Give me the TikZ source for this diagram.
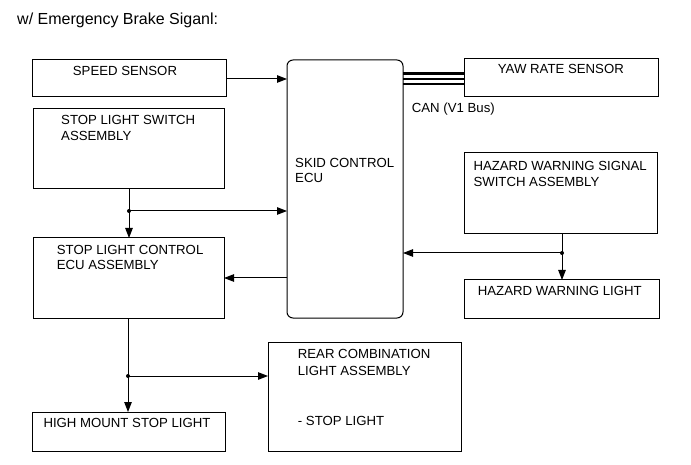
\documentclass[tikz,border=0pt]{standalone}
\usepackage{fontspec}
\setmainfont{Liberation Sans}
\usetikzlibrary{arrows.meta}
\begin{document}
\begin{tikzpicture}[x=1pt,y=-1pt,
  box/.style={draw=black, line width=1pt, anchor=north west, inner sep=0pt, outer sep=0pt},
  lbl/.style={anchor=base west, inner sep=0pt, font=\fontsize{13.2}{15.7}\selectfont},
  conn/.style={line width=1pt, -{Triangle[length=10pt,width=7.5pt]}},
  dot/.style={circle, fill=black, inner sep=0pt, minimum size=4pt}]
\useasboundingbox (0,0) rectangle (691,465);

% title
\node[lbl, font=\fontsize{16}{18}\selectfont] (title) at (17,25) {w/ Emergency Brake Siganl:};

% boxes
\node[box, minimum width=194pt, minimum height=37pt] (speed) at (32,60) {};
\node[box, minimum width=116pt, minimum height=258pt, rounded corners=6pt] (ecu) at (287,60) {};
\node[box, minimum width=194pt, minimum height=38pt] (yaw) at (464,59) {};
\node[box, minimum width=191pt, minimum height=80pt] (sls) at (33,109) {};
\node[box, minimum width=191pt, minimum height=80pt] (slc) at (33,238) {};
\node[box, minimum width=193pt, minimum height=81pt] (hws) at (464,153) {};
\node[box, minimum width=195pt, minimum height=38pt] (hwl) at (464,280) {};
\node[box, minimum width=193pt, minimum height=109pt] (rear) at (268,342) {};
\node[box, minimum width=193pt, minimum height=39pt] (high) at (32,412) {};

% texts
\node[lbl] (tspeed) at (72.7,75.7) {SPEED SENSOR};
\node[lbl] (tyaw) at (497.7,73.3) {YAW RATE SENSOR};
\node[lbl] (tcan) at (411.7,112.7) {CAN (V1 Bus)};
\node[lbl] (tsls1) at (61,125) {STOP LIGHT SWITCH};
\node[lbl] (tsls2) at (61,140.7) {ASSEMBLY};
\node[lbl] (tecu1) at (295,167.3) {SKID CONTROL};
\node[lbl] (tecu2) at (295,182.7) {ECU};
\node[lbl] (tslc1) at (56.7,254.3) {STOP LIGHT CONTROL};
\node[lbl] (tslc2) at (56.7,269.3) {ECU ASSEMBLY};
\node[lbl] (thws1) at (473.3,170.7) {HAZARD WARNING SIGNAL};
\node[lbl] (thws2) at (473.3,186.7) {SWITCH ASSEMBLY};
\node[lbl] (thwl) at (477.7,295) {HAZARD WARNING LIGHT};
\node[lbl] (trear1) at (297.7,358.7) {REAR COMBINATION};
\node[lbl] (trear2) at (297.7,375) {LIGHT ASSEMBLY};
\node[lbl] (trear3) at (297.7,425) {- STOP LIGHT};
\node[lbl] (thigh) at (43.3,427.7) {HIGH MOUNT STOP LIGHT};

% junction points
\coordinate (j1) at (129,211);
\coordinate (j2) at (562,253);
\coordinate (j3) at (128,376);
\coordinate (a1) at (0,79);
\coordinate (a2) at (0,278);

% connectors
\draw[conn] (speed.east |- a1) -- (ecu.west |- a1);
\draw[line width=2.8pt] (ecu.east |- 0,73.8) -- (yaw.west |- 0,73.8);
\draw[line width=1.2pt] (ecu.east |- 0,79) -- (yaw.west |- 0,79);
\draw[line width=1.6pt] (ecu.east |- 0,83.8) -- (yaw.west |- 0,83.8);

\draw[conn] (sls.south -| j1) -- (slc.north -| j1);
\draw[conn] (j1) -- (j1 -| ecu.west);
\node[dot] (d1) at (j1) {};

\draw[conn] (ecu.west |- a2) -- (slc.east |- a2);

\draw[conn] (hws.south -| j2) -- (hwl.north -| j2);
\draw[conn] (j2) -- (j2 -| ecu.east);
\node[dot] (d2) at (j2) {};

\draw[conn] (slc.south -| j3) -- (high.north -| j3);
\draw[conn] (j3) -- (j3 -| rear.west);
\node[dot] (d3) at (j3) {};
\end{tikzpicture}
\end{document}
